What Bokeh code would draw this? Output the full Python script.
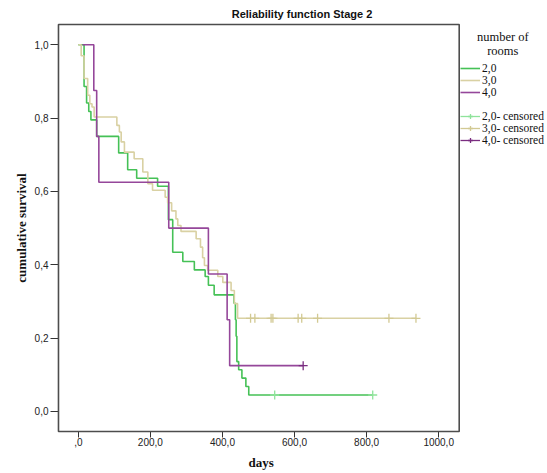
from bokeh.plotting import figure
from bokeh.models import Range1d, FixedTicker, Legend, LegendItem, Label, Title, BoxAnnotation
from bokeh.embed import file_html
from bokeh.resources import INLINE

# ---------------- data ----------------
title_text = "Reliability function Stage 2"
legend_title_1 = "number of"
legend_title_2 = "rooms"
x_label = "days"
y_label = "cumulative survival"

x_ticks = [0, 200, 400, 600, 800, 1000]
x_tick_labels = [",0", "200,0", "400,0", "600,0", "800,0", "1000,0"]
y_ticks = [0.0, 0.2, 0.4, 0.6, 0.8, 1.0]
y_tick_labels = ["0,0", "0,2", "0,4", "0,6", "0,8", "1,0"]

groups = ["2,0", "3,0", "4,0"]

# group 2,0 (Kaplan-Meier steps)
g2_time = [0, 16, 23, 29, 35, 51, 112, 137, 162, 220, 250, 262, 290, 322, 352, 361, 377,
           432, 436, 438, 440, 445, 454, 465, 473, 817]
g2_surv = [1.0, 0.886, 0.841, 0.818, 0.795, 0.750, 0.705, 0.659, 0.636, 0.614, 0.523, 0.434,
           0.409, 0.386, 0.368, 0.344, 0.318, 0.295, 0.250, 0.205, 0.136, 0.114, 0.091, 0.068,
           0.045, 0.045]
g2_cens_time = [545, 817]
g2_cens_surv = [0.045, 0.045]

# group 3,0
g3_time = [0, 8, 16, 26, 32, 38, 44, 107, 114, 119, 128, 155, 179, 193, 206, 241, 248, 259,
           271, 276, 285, 327, 339, 345, 350, 359, 387, 401, 424, 433, 442, 937]
g3_surv = [1.0, 0.97, 0.908, 0.862, 0.839, 0.83, 0.803, 0.78, 0.762, 0.735, 0.707, 0.689,
           0.653, 0.621, 0.603, 0.584, 0.569, 0.547, 0.525, 0.507, 0.491, 0.471, 0.448, 0.419,
           0.398, 0.385, 0.368, 0.352, 0.33, 0.294, 0.254, 0.254]
g3_cens_time = [478, 490, 535, 540, 610, 620, 664, 862, 937]
g3_cens_surv = [0.254] * 9

# group 4,0
g4_time = [12, 43, 51, 57, 251, 361, 413, 420, 624]
g4_surv = [1.0, 0.875, 0.75, 0.625, 0.5, 0.375, 0.25, 0.125, 0.125]
g4_cens_time = [624]
g4_cens_surv = [0.125]

line_colors = ["#45c156", "#d9d1a3", "#95479a"]
cens_colors = ["#8fe39b", "#d2c993", "#7a2d80"]

# plotted area (inner box) in data units
box_x = (-55, 1057)
box_y = (-0.0545, 1.055)

NAN = float("nan")

# ---------------- figure ----------------
p = figure(width=547, height=473, output_backend="svg", toolbar_location=None,
           x_range=Range1d(-60.5, 1302), y_range=Range1d(-0.06, 1.0605),
           min_border_left=56, min_border_right=0, min_border_top=22, min_border_bottom=40)
p.xgrid.visible = False
p.ygrid.visible = False
p.background_fill_color = "white"
p.border_fill_color = "white"
p.outline_line_color = None

p.add_layout(BoxAnnotation(left=box_x[0], right=box_x[1], bottom=box_y[0], top=box_y[1],
                           fill_color=None, line_color="#4d4d4d", line_alpha=1.0,
                           line_width=1.6))

p.title.text = title_text
p.title.align = "center"
p.title.standoff = 5
p.title.text_font = "Liberation Sans"
p.title.text_font_style = "bold"
p.title.text_font_size = "11px"
p.title.text_color = "#111111"

for ax, ticks, labels in ((p.xaxis, x_ticks, x_tick_labels), (p.yaxis, y_ticks, y_tick_labels)):
    ax.ticker = FixedTicker(ticks=ticks)
    ax.major_label_overrides = {t: l for t, l in zip(ticks, labels)}
    ax.minor_tick_line_color = None
    ax.major_tick_in = 2
    ax.major_tick_out = 6
    ax.major_tick_line_color = "#333333"
    ax.axis_line_color = None
    ax.major_label_text_font = "Liberation Sans"
    ax.major_label_text_font_size = "10px"
    ax.major_label_text_color = "#222222"
    ax.major_label_standoff = 2
    ax.axis_label_text_font = "Liberation Serif"
    ax.axis_label_text_font_style = "bold"
    ax.axis_label_text_font_size = "13px"
    ax.axis_label_text_color = "#111111"

p.yaxis.axis_label = y_label
p.yaxis.axis_label_standoff = 3
p.xaxis.major_tick_out = 4
p.xaxis.major_label_standoff = 0

days_title = Title(text=x_label, align="left", offset=192, standoff=8,
                   text_font="Liberation Serif", text_font_style="bold",
                   text_font_size="13px", text_line_height=1.0, text_color="#111111")
p.add_layout(days_title, "below")

times = [g2_time, g3_time, g4_time]
survs = [g2_surv, g3_surv, g4_surv]
ctimes = [g2_cens_time, g3_cens_time, g4_cens_time]
csurvs = [g2_cens_surv, g3_cens_surv, g4_cens_surv]

step_r = []
cens_r = []
cens_line_r = []
for i in range(3):
    r = p.step(x=times[i], y=survs[i], mode="after", line_color=line_colors[i], line_width=1.6)
    step_r.append(r)
for i in range(3):
    c = p.scatter(x=ctimes[i], y=csurvs[i], marker="cross", size=9, line_width=1.3,
                  line_color=cens_colors[i])
    cens_r.append(c)
    # legend-only line (no visible data) for the censored icon
    lr = p.line(x=[NAN], y=[NAN], line_color=cens_colors[i], line_width=1.3)
    cens_line_r.append(lr)

dummy = p.line(x=[NAN], y=[NAN], line_alpha=0)

items = [LegendItem(label=groups[i], renderers=[step_r[i]]) for i in range(3)]
items.append(LegendItem(label=" ", renderers=[dummy]))
items += [LegendItem(label=groups[i] + "- censored", renderers=[cens_line_r[i], cens_r[i]])
          for i in range(3)]

legend = Legend(items=items, location=(404, 287), padding=0, margin=0, spacing=0,
                glyph_width=20, glyph_height=12, label_height=12, label_standoff=2,
                label_text_font="Liberation Serif", label_text_font_size="11.5px",
                label_text_line_height=1.0, label_text_color="#111111",
                border_line_alpha=0, background_fill_alpha=0)
p.add_layout(legend)

for txt, yv in ((legend_title_1, 1.02), (legend_title_2, 0.982)):
    p.add_layout(Label(x=1178, y=yv, text=txt, text_align="center", text_baseline="middle",
                       text_font="Liberation Serif", text_font_size="12.5px",
                       text_color="#111111"))

open("out.html", "w").write(file_html(p, INLINE))
